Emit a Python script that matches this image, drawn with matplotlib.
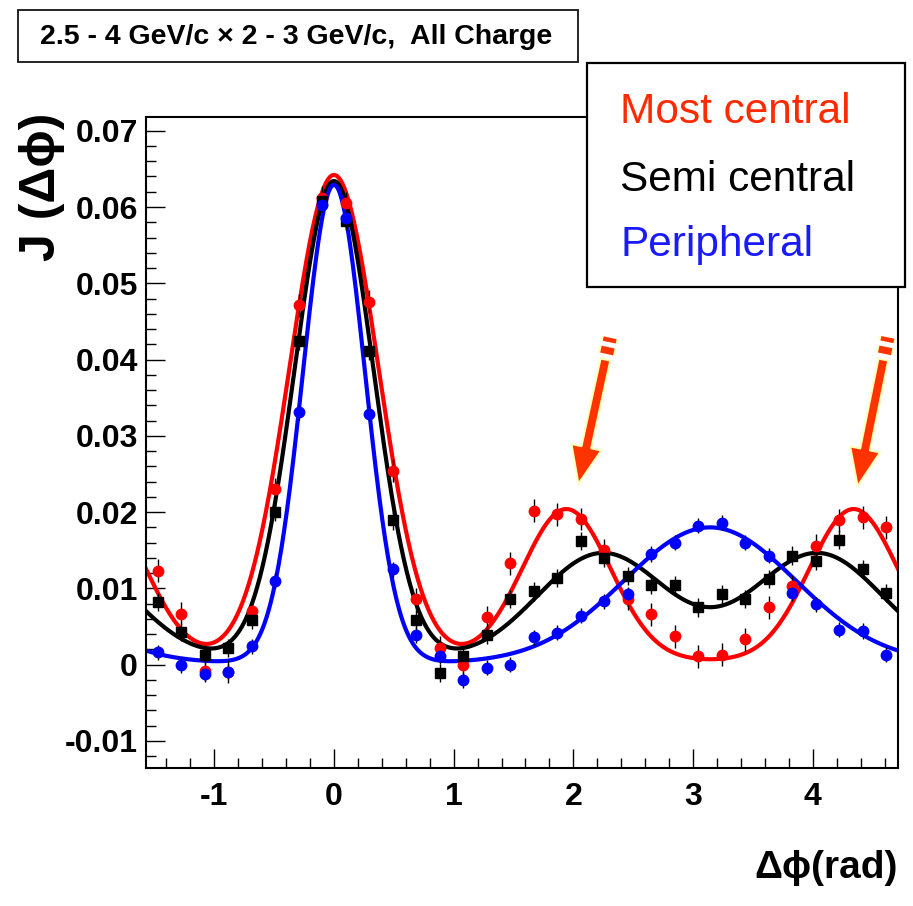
import numpy as np
import matplotlib
matplotlib.use("Agg")
import matplotlib.pyplot as plt
from matplotlib.patches import Rectangle
from matplotlib.lines import Line2D
import matplotlib.patheffects as pe
from matplotlib.ticker import MultipleLocator

# ---- binned correlation functions (32 bins over [-pi/2, 3pi/2]) ----
n_bins = 32
bin_edges = np.linspace(-np.pi / 2, 3 * np.pi / 2, n_bins + 1)
dphi = 0.5 * (bin_edges[:-1] + bin_edges[1:])

j_central = [0.0123, 0.0067, -0.0008, -0.0009, 0.0070, 0.0230, 0.0471, 0.0612,
             0.0605, 0.0476, 0.0254, 0.0086, 0.0022, 0.0000, 0.0062, 0.0133,
             0.0202, 0.0197, 0.0191, 0.0150, 0.0086, 0.0066, 0.0037, 0.0011,
             0.0013, 0.0033, 0.0075, 0.0103, 0.0156, 0.0189, 0.0193, 0.0180]
j_semi = [0.0082, 0.0043, 0.0013, 0.0022, 0.0059, 0.0200, 0.0424, 0.0608,
          0.0582, 0.0411, 0.0189, 0.0059, -0.0011, 0.0011, 0.0039, 0.0086,
          0.0096, 0.0114, 0.0162, 0.0140, 0.0116, 0.0104, 0.0104, 0.0075,
          0.0092, 0.0086, 0.0112, 0.0143, 0.0136, 0.0164, 0.0125, 0.0094]
j_periph = [0.0016, -0.0001, -0.0012, -0.0009, 0.0024, 0.0110, 0.0331, 0.0603,
            0.0586, 0.0329, 0.0125, 0.0039, 0.0011, -0.0020, -0.0004, 0.0000,
            0.0036, 0.0042, 0.0064, 0.0083, 0.0092, 0.0145, 0.0160, 0.0182,
            0.0186, 0.0160, 0.0143, 0.0094, 0.0079, 0.0046, 0.0044, 0.0013]

err_central = 0.0015
err_semi = 0.0012
err_periph = 0.0010

# fit parameters: baseline, near-side gaussian, away-side gaussian pair at pi +/- offset
fit_central = dict(base=0.0005, near_amp=0.0637, near_sigma=0.37,
                   away_amp=0.0199, away_offset=1.20, away_sigma=0.37)
fit_semi = dict(base=0.0005, near_amp=0.0629, near_sigma=0.33,
                away_amp=0.0141, away_offset=0.90, away_sigma=0.54)
fit_periph = dict(base=0.0002, near_amp=0.0627, near_sigma=0.26,
                  away_amp=0.0178, away_offset=0.0, away_sigma=0.72)

series_names = ["Most central", "Semi central", "Peripheral"]
title_text = "2.5 - 4 GeV/c \u00d7 2 - 3 GeV/c,  All Charge"


def fit_curve(x, base, near_amp, near_sigma, away_amp, away_offset, away_sigma):
    y = np.full_like(x, base)
    away_centers = np.unique([np.pi - away_offset, np.pi + away_offset])
    for shift in (-2 * np.pi, 0.0, 2 * np.pi):
        y += near_amp * np.exp(-(x - shift) ** 2 / (2 * near_sigma ** 2))
        for c in away_centers:
            y += away_amp * np.exp(-(x - c - shift) ** 2 / (2 * away_sigma ** 2))
    return y


W, H = 913, 906
fig = plt.figure(figsize=(W / 100, H / 100), dpi=100)
ax = fig.add_axes([146 / W, 1 - 768 / H, (898 - 146) / W, (768 - 117) / H])

sans = ["Liberation Sans", "DejaVu Sans"]

xs = np.linspace(-np.pi / 2, 3 * np.pi / 2, 800)
red, black, blue = "#ff0000", "#000000", "#0000ff"

ax.plot(xs, fit_curve(xs, **fit_central), color=red, lw=3.0, zorder=2)
ax.plot(xs, fit_curve(xs, **fit_semi), color=black, lw=3.0, zorder=2.1)
ax.plot(xs, fit_curve(xs, **fit_periph), color=blue, lw=3.0, zorder=2.2)

for vals, err, col, mk in [(j_central, err_central, red, "o"),
                           (j_semi, err_semi, black, "s"),
                           (j_periph, err_periph, blue, "o")]:
    ax.errorbar(dphi, vals, yerr=err, fmt="none", ecolor="black",
                elinewidth=1.0, capsize=0, zorder=3)
    ax.plot(dphi, vals, linestyle="none", marker=mk, ms=7.5,
            mfc=col, mec=col, zorder=4)

ax.set_xlim(-np.pi / 2, 3 * np.pi / 2)
ax.set_ylim(-0.01355, 0.0718)
ax.xaxis.set_major_locator(MultipleLocator(1))
ax.xaxis.set_minor_locator(MultipleLocator(0.2))
ax.yaxis.set_major_locator(MultipleLocator(0.01))
ax.yaxis.set_minor_locator(MultipleLocator(0.002))
ax.tick_params(which="both", direction="in", top=False, right=False, width=1.0)
ax.tick_params(which="major", length=14)
ax.tick_params(which="minor", length=7)
ax.tick_params(axis="x", pad=10)
ax.tick_params(axis="y", pad=6)
for s in ax.spines.values():
    s.set_linewidth(1.5)

ax.xaxis.set_major_formatter(plt.FuncFormatter(lambda v, p: f"{v:g}"))
ax.yaxis.set_major_formatter(plt.FuncFormatter(
    lambda v, p: "0" if abs(v) < 1e-9 else f"{v:.2f}"))
for lab in ax.get_xticklabels() + ax.get_yticklabels():
    lab.set_fontfamily(sans)
    lab.set_fontweight("bold")
    lab.set_fontsize(23)

# axis titles
fig.text(42 / W, 1 - 187 / H, "J (\u0394\u03d5)", rotation=90, ha="center",
         va="center", fontsize=36, fontweight="bold", family=sans)
fig.text(898 / W, 1 - 868 / H, "\u0394\u03d5(rad)", ha="right", va="center",
         fontsize=28, fontweight="bold", family=sans)

# title box
fig.add_artist(Rectangle((18 / W, 1 - 62 / H), (578 - 18) / W, (62 - 10) / H,
                         transform=fig.transFigure, fc="white", ec="black",
                         lw=1.2, zorder=5))
fig.text(296 / W, 1 - 37 / H, title_text, ha="center", va="center",
         fontsize=20.5, fontweight="bold", family=sans, zorder=6)

# legend box
fig.add_artist(Rectangle((587 / W, 1 - 287 / H), (905 - 587) / W, (287 - 63) / H,
                         transform=fig.transFigure, fc="white", ec="black",
                         lw=1.6, zorder=7))
legend_colors = ["#ff2a00", "#000000", "#1a1aff"]
legend_baselines = [123, 191, 256]
for name, col, yb in zip(series_names, legend_colors, legend_baselines):
    fig.text(620 / W, 1 - yb / H, name, ha="left", va="baseline", color=col,
             fontsize=30.5, family=sans, zorder=8)

# arrows marking the away-side peaks
arrow_tips = [(2.042, 0.0237), (4.375, 0.0234)]
arrow_tails = [(2.268, 0.0400), (4.590, 0.0400)]
arrow_fc, arrow_ec = "#ff3300", "#ffffbb"
for tip, tail in zip(arrow_tips, arrow_tails):
    ax.annotate("", xy=tip, xytext=tail,
                arrowprops=dict(arrowstyle="simple,head_length=1.35,head_width=1.1,tail_width=0.36",
                                fc=arrow_fc, ec=arrow_ec, lw=1.5,
                                shrinkA=0, shrinkB=0, mutation_scale=20),
                zorder=6)
    d = np.subtract(tail, tip)
    for t0, t1, w in [(0.045, 0.10, 9.5), (0.14, 0.175, 9.5)]:
        p0 = np.add(tail, d * t0)
        p1 = np.add(tail, d * t1)
        ln = Line2D([p0[0], p1[0]], [p0[1], p1[1]], color=arrow_fc, lw=w,
                    solid_capstyle="butt", zorder=6,
                    path_effects=[pe.Stroke(linewidth=w + 3, foreground=arrow_ec),
                                  pe.Normal()])
        ax.add_line(ln)

fig.savefig("out.png", dpi=100, facecolor="white")
